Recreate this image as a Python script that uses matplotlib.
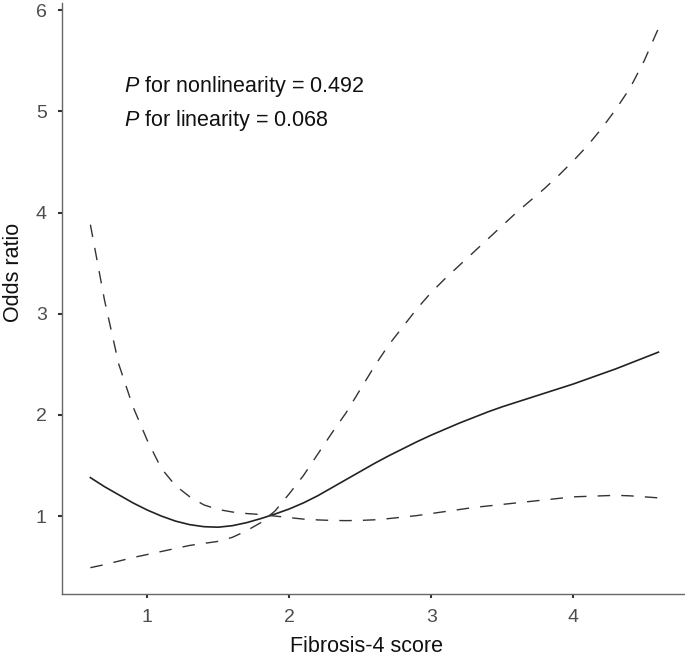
import matplotlib
matplotlib.use('Agg')
import matplotlib.pyplot as plt

# Fibrosis-4 score grid and estimated odds ratios
fib4 = [0.6, 0.7, 0.8, 0.9, 1.0, 1.1, 1.2, 1.3, 1.4, 1.5,
        1.6, 1.7, 1.8, 1.9, 2.0, 2.1, 2.2, 2.3, 2.4, 2.5,
        2.6, 2.7, 2.8, 2.9, 3.0, 3.1, 3.2, 3.3, 3.4, 3.5,
        3.6, 3.7, 3.8, 3.9, 4.0, 4.1, 4.2, 4.3, 4.4, 4.5, 4.6]

odds_ratio = [1.38, 1.29, 1.21, 1.13, 1.06, 1.00, 0.95, 0.915, 0.895, 0.89,
              0.905, 0.935, 0.975, 1.02, 1.07, 1.13, 1.20, 1.28, 1.36, 1.44,
              1.52, 1.595, 1.665, 1.735, 1.80, 1.86, 1.92, 1.975, 2.03, 2.08,
              2.125, 2.17, 2.215, 2.26, 2.305, 2.355, 2.405, 2.455, 2.51, 2.565, 2.62]

ci_a = [3.88, 3.13, 2.50, 2.08, 1.75, 1.47, 1.30, 1.19, 1.11, 1.065,
        1.04, 1.025, 1.015, 1.0, 0.985, 0.97, 0.962, 0.957, 0.955, 0.957,
        0.963, 0.975, 0.99, 1.005, 1.025, 1.045, 1.065, 1.085, 1.10, 1.115,
        1.13, 1.145, 1.16, 1.175, 1.19, 1.195, 1.20, 1.205, 1.20, 1.19, 1.18]

ci_b = [0.49, 0.52, 0.555, 0.59, 0.62, 0.65, 0.68, 0.71, 0.73, 0.75,
        0.79, 0.855, 0.935, 1.05, 1.22, 1.40, 1.61, 1.82, 2.02, 2.25,
        2.48, 2.69, 2.87, 3.05, 3.21, 3.35, 3.48, 3.61, 3.74, 3.87,
        4.00, 4.12, 4.24, 4.37, 4.51, 4.66, 4.83, 5.02, 5.23, 5.50, 5.82]

x_ticks = [1, 2, 3, 4]
y_ticks = [1, 2, 3, 4, 5, 6]

plt.rcParams['font.family'] = ['Liberation Sans', 'DejaVu Sans']
plt.rcParams['mathtext.fontset'] = 'custom'
plt.rcParams['mathtext.it'] = 'Liberation Sans:italic'
plt.rcParams['mathtext.rm'] = 'Liberation Sans'

fig = plt.figure(figsize=(6.85, 6.58), dpi=100)
ax = fig.add_axes([0.0905, 0.0973, 0.908, 0.898])

ax.plot(fib4, odds_ratio, color='#222222', lw=1.2)
ax.plot(fib4, ci_a, color='#333333', lw=1.0, dashes=(9, 8))
ax.plot(fib4, ci_b, color='#333333', lw=1.0, dashes=(9, 8))

ax.set_xlim(0.40, 4.78)
ax.set_ylim(0.23, 6.07)
ax.set_xticks(x_ticks)
ax.set_yticks(y_ticks)

for side in ['top', 'right']:
    ax.spines[side].set_visible(False)
for side in ['left', 'bottom']:
    ax.spines[side].set_color('#666666')
    ax.spines[side].set_linewidth(1.0)

ax.tick_params(direction='out', length=3, width=1.5, color='#333333',
               labelsize=14, labelcolor='#4d4d4d', pad=8)

ax.set_xlabel('Fibrosis-4 score', fontsize=15.5, color='#111111', va='center')
ax.xaxis.set_label_coords(0.489, -0.089)
ax.set_ylabel('Odds ratio', fontsize=15.5, color='#111111', va='center')
ax.yaxis.set_label_coords(-0.078, 0.545)

ax.text(0.84, 5.25, r'$\it{P}$ for nonlinearity = 0.492', fontsize=15.5,
        va='center', ha='left', color='#111111')
ax.text(0.84, 4.91, r'$\it{P}$ for linearity = 0.068', fontsize=15.5,
        va='center', ha='left', color='#111111')

fig.savefig('out.png', dpi=100)
